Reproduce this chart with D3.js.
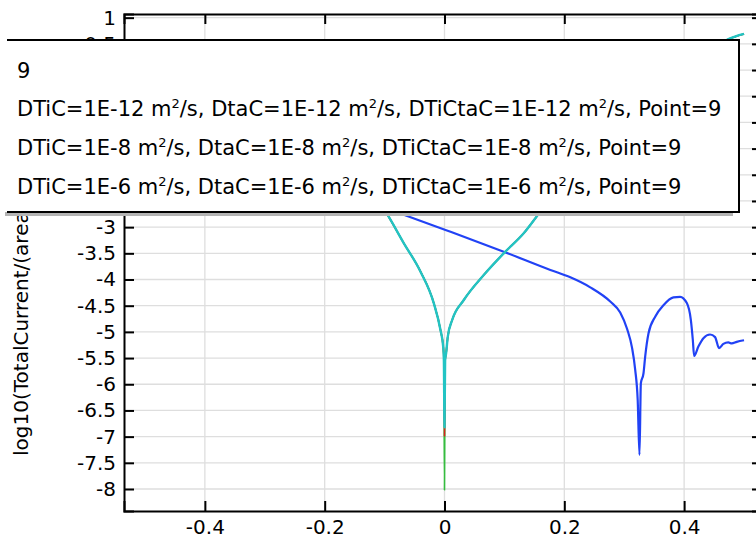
<!DOCTYPE html>
<html>
<head>
<meta charset="utf-8">
<script src="https://cdn.jsdelivr.net/npm/d3@7"></script>
<style>
  html, body { margin: 0; padding: 0; background: #fff; }
  svg { display: block; font-family: "DejaVu Sans", sans-serif; }
</style>
</head>
<body>
<svg id="chart" width="756" height="544"></svg>
<script>
// ---------- data ----------
const xTicks = [-0.4, -0.2, 0, 0.2, 0.4];
const xTickLabels = ["-0.4", "-0.2", "0", "0.2", "0.4"];
const yTicks = [1, 0.5, 0, -0.5, -1, -1.5, -2, -2.5, -3, -3.5, -4, -4.5, -5, -5.5, -6, -6.5, -7, -7.5, -8];
const yTickLabels = ["1", "0.5", "0", "-0.5", "-1", "-1.5", "-2", "-2.5", "-3", "-3.5", "-4", "-4.5", "-5", "-5.5", "-6", "-6.5", "-7", "-7.5", "-8"];

const yAxisTitle = "log10(TotalCurrent/(area*1[A/m^2]))";

const legendTitle = "9";
const legendLabels = [
  ["DTiC=1E-12 m", "2", "/s, DtaC=1E-12 m", "2", "/s, DTiCtaC=1E-12 m", "2", "/s, Point=9"],
  ["DTiC=1E-8 m", "2", "/s, DtaC=1E-8 m", "2", "/s, DTiCtaC=1E-8 m", "2", "/s, Point=9"],
  ["DTiC=1E-6 m", "2", "/s, DtaC=1E-6 m", "2", "/s, DTiCtaC=1E-6 m", "2", "/s, Point=9"]
];

// blue series (potential, log10 current)
const potentialBlue = [-0.5, -0.4, -0.3, -0.2, -0.1, -0.0817, 0.0017, 0.0988, 0.1767, 0.21, 0.2433, 0.2767, 0.2933,
  0.305, 0.313, 0.3183, 0.3225, 0.3255, 0.3278, 0.3322, 0.335, 0.3405, 0.3517, 0.3655, 0.3822, 0.3933, 0.4045, 0.4112,
  0.4145, 0.4167, 0.4238, 0.4322, 0.4433, 0.4517, 0.4583, 0.4655, 0.4738, 0.4795, 0.4878, 0.5];
const logIBlue = [-0.94, -1.37, -1.79, -2.21, -2.63, -2.705, -3.054, -3.469, -3.818, -3.958, -4.149, -4.42, -4.63,
  -4.95, -5.3, -5.72, -6.3, -7.35, -5.98, -5.79, -5.47, -5.03, -4.71, -4.49, -4.34, -4.33, -4.45, -4.77,
  -5.15, -5.46, -5.28, -5.12, -5.05, -5.10, -5.31, -5.23, -5.20, -5.22, -5.19, -5.16];

// V-shaped series share the potential grid
const potentialV = [-0.5, -0.4, -0.3, -0.2, -0.15, -0.0983, -0.0678, -0.04, -0.0178, -0.0067, -0.002, -0.001, 0,
  0.001, 0.0028, 0.0055, 0.0128, 0.0322, 0.0655, 0.0988, 0.1322, 0.16, 0.2, 0.25, 0.3, 0.35, 0.4, 0.45, 0.474, 0.5];
const logIGreen = [-0.15, -0.35, -0.7, -1.35, -1.95, -2.705, -3.308, -3.85, -4.454, -4.964, -5.3, -5.55, -8.02,
  -5.55, -5.4, -5.092, -4.773, -4.391, -3.914, -3.50, -3.117, -2.705, -2.15, -1.52, -0.93, -0.40, 0.05, 0.42, 0.59, 0.69];
const logIRed = [-0.15, -0.35, -0.7, -1.35, -1.95, -2.705, -3.308, -3.85, -4.454, -4.964, -5.3, -5.55, -6.99,
  -5.55, -5.4, -5.092, -4.773, -4.391, -3.914, -3.50, -3.117, -2.705, -2.15, -1.52, -0.93, -0.40, 0.05, 0.42, 0.59, 0.69];
const logITeal = [-0.15, -0.35, -0.7, -1.35, -1.95, -2.705, -3.308, -3.85, -4.454, -4.964, -5.3, -5.55, -6.82,
  -5.55, -5.4, -5.092, -4.773, -4.391, -3.914, -3.50, -3.117, -2.705, -2.15, -1.52, -0.93, -0.40, 0.05, 0.42, 0.59, 0.69];

const seriesColors = ["#2142f5", "#35bd3f", "#d9231e", "#22c4c4"];
const seriesWidths = [2.2, 1.6, 1.6, 2.4];

// ---------- layout ----------
const plot = { left: 124, right: 762, top: 14, bottom: 511 };
const svg = d3.select("#chart");

const x = d3.scaleLinear().domain([-0.535, 0.53]).range([plot.left, plot.right]);
const y = d3.scaleLinear().domain([-8.42, 1.07]).range([plot.bottom, plot.top]);

svg.append("defs").append("clipPath").attr("id", "clip")
  .append("rect").attr("x", plot.left).attr("y", plot.top)
  .attr("width", plot.right - plot.left).attr("height", plot.bottom - plot.top);

// grid
const grid = svg.append("g");
grid.selectAll("line.h").data(yTicks).join("line")
  .attr("x1", plot.left).attr("x2", plot.right)
  .attr("y1", d => y(d)).attr("y2", d => y(d))
  .attr("stroke", "#dedede").attr("stroke-width", 1.3);
grid.selectAll("line.v").data(xTicks).join("line")
  .attr("y1", plot.top).attr("y2", plot.bottom)
  .attr("x1", d => x(d)).attr("x2", d => x(d))
  .attr("stroke", "#dedede").attr("stroke-width", 1.3);

// lines
const lineGen = d3.line().x(d => x(d[0])).y(d => y(d[1])).curve(d3.curveMonotoneX);
const zip = (a, b) => a.map((v, i) => [v, b[i]]);
const series = [
  zip(potentialBlue, logIBlue),
  zip(potentialV, logIGreen),
  zip(potentialV, logIRed),
  zip(potentialV, logITeal)
];
const lines = svg.append("g").attr("clip-path", "url(#clip)");
series.forEach((s, i) => {
  lines.append("path").attr("d", lineGen(s))
    .attr("fill", "none").attr("stroke", seriesColors[i])
    .attr("stroke-width", seriesWidths[i]).attr("stroke-linejoin", "round");
});

// axes (ticks inward)
const axisFont = 20;
const gB = svg.append("g").attr("transform", `translate(0,${plot.bottom})`)
  .call(d3.axisBottom(x).tickValues(xTicks).tickSize(-10).tickPadding(9)
    .tickFormat((d, i) => xTickLabels[i]));
const gT = svg.append("g").attr("transform", `translate(0,${plot.top})`)
  .call(d3.axisTop(x).tickValues(xTicks).tickSize(-10).tickFormat(""));
const gL = svg.append("g").attr("transform", `translate(${plot.left},0)`)
  .call(d3.axisLeft(y).tickValues(yTicks).tickSize(-10).tickPadding(8)
    .tickFormat((d, i) => yTickLabels[i]));
const gR = svg.append("g").attr("transform", `translate(${plot.right},0)`)
  .call(d3.axisRight(y).tickValues(yTicks).tickSize(-10).tickFormat(""));

[gB, gT, gL, gR].forEach(g => {
  g.select(".domain").attr("stroke", "#000").attr("stroke-width", 2);
  g.selectAll(".tick line").attr("stroke", "#000").attr("stroke-width", 2);
  g.selectAll(".tick text").attr("fill", "#000")
    .style("font-size", axisFont + "px").style("font-family", "DejaVu Sans");
});

// y axis title
svg.append("text")
  .attr("transform", "translate(28,456) rotate(-90)")
  .attr("text-anchor", "start")
  .style("font-size", "20px")
  .attr("fill", "#000")
  .text(yAxisTitle);

// legend
const lg = { x: 7, y: 40, w: 732, h: 172 };
svg.append("rect").attr("x", lg.x - 2).attr("y", lg.y + 4)
  .attr("width", lg.w - 4).attr("height", lg.h).attr("fill", "#b4b4b4");
svg.append("rect").attr("x", lg.x - 7).attr("y", lg.y)
  .attr("width", lg.w + 7).attr("height", lg.h).attr("fill", "#fff");
svg.append("path")
  .attr("d", `M${lg.x},${lg.y} H${lg.x + lg.w} V${lg.y + lg.h} H${lg.x}`)
  .attr("fill", "none").attr("stroke", "#000").attr("stroke-width", 2);

const legendFont = 21;
svg.append("text").attr("x", 17).attr("y", 78)
  .style("font-size", legendFont + "px").attr("fill", "#000").text(legendTitle);
const baselines = [116, 155, 194];
legendLabels.forEach((parts, i) => {
  const t = svg.append("text").attr("x", 17).attr("y", baselines[i])
    .style("font-size", legendFont + "px").attr("fill", "#000");
  parts.forEach((p, j) => {
    if (j % 2 === 1) {
      t.append("tspan").attr("dy", -8).style("font-size", "13px").text(p);
    } else {
      t.append("tspan").attr("dy", j === 0 ? 0 : 8).text(p);
    }
  });
});
</script>
</body>
</html>
